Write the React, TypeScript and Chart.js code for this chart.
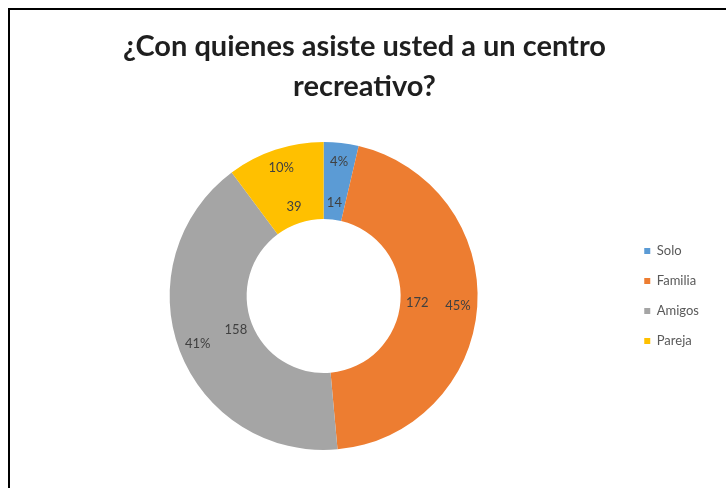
import React, { useEffect, useRef } from "react";
import { Chart, registerables } from "chart.js";

Chart.register(...registerables);

const categories = ["Solo", "Familia", "Amigos", "Pareja"];
const values = [14, 172, 158, 39];
const percentLabels = ["4%", "45%", "41%", "10%"];
const colors = ["#5B9BD5", "#ED7D31", "#A5A5A5", "#FFC000"];
const titleLines = ["¿Con quienes asiste usted a un centro", "recreativo?"];

const arcLabels = {
  id: "arcLabels",
  afterDatasetsDraw(chart: any) {
    const ctx = chart.ctx;
    const meta = chart.getDatasetMeta(0);
    ctx.save();
    ctx.font = "13px Lato";
    ctx.fillStyle = "#404040";
    ctx.textAlign = "center";
    ctx.textBaseline = "middle";
    meta.data.forEach((arc: any, i: number) => {
      const p = arc.getProps(["x", "y", "startAngle", "endAngle", "innerRadius", "outerRadius"], true);
      const mid = (p.startAngle + p.endAngle) / 2;
      const ring = p.outerRadius - p.innerRadius;
      const rv = p.innerRadius + ring * 0.22;
      const rp = p.innerRadius + ring * 0.75;
      ctx.fillText(String(values[i]), p.x + Math.cos(mid) * rv, p.y + Math.sin(mid) * rv);
      ctx.fillText(percentLabels[i], p.x + Math.cos(mid) * rp, p.y + Math.sin(mid) * rp);
    });
    ctx.restore();
  },
};

export default function App() {
  const ref = useRef<HTMLCanvasElement>(null);
  useEffect(() => {
    if (!ref.current) return;
    const chart = new Chart(ref.current, {
      type: "doughnut",
      data: {
        labels: categories,
        datasets: [
          {
            data: values,
            backgroundColor: colors,
            borderWidth: 0,
          },
        ],
      },
      options: {
        animation: false,
        responsive: false,
        cutout: "50%",
        layout: { padding: { left: 10, right: 17, bottom: 38, top: 0 } },
        plugins: {
          title: {
            display: true,
            text: titleLines,
            color: "#1f1f1f",
            font: { family: "Lato", size: 29, weight: "bold", lineHeight: 1.38 },
            padding: { top: 17, bottom: 35 },
          },
          legend: {
            display: true,
            position: "right",
            align: "center",
            fullSize: false,
            labels: {
              boxWidth: 6,
              boxHeight: 6,
              padding: 17,
              color: "#595959",
              font: { family: "Lato", size: 13 },
            },
          },
          tooltip: { enabled: false },
        },
      },
      plugins: [arcLabels],
    });
    return () => chart.destroy();
  }, []);
  return (
    <div
      style={{
        position: "fixed",
        left: 8,
        top: 8,
        right: 0,
        bottom: 0,
        borderLeft: "2px solid #000",
        borderTop: "2px solid #000",
        background: "#fff",
      }}
    >
      <canvas ref={ref} width={716} height={478} style={{ display: "block" }} />
    </div>
  );
}
